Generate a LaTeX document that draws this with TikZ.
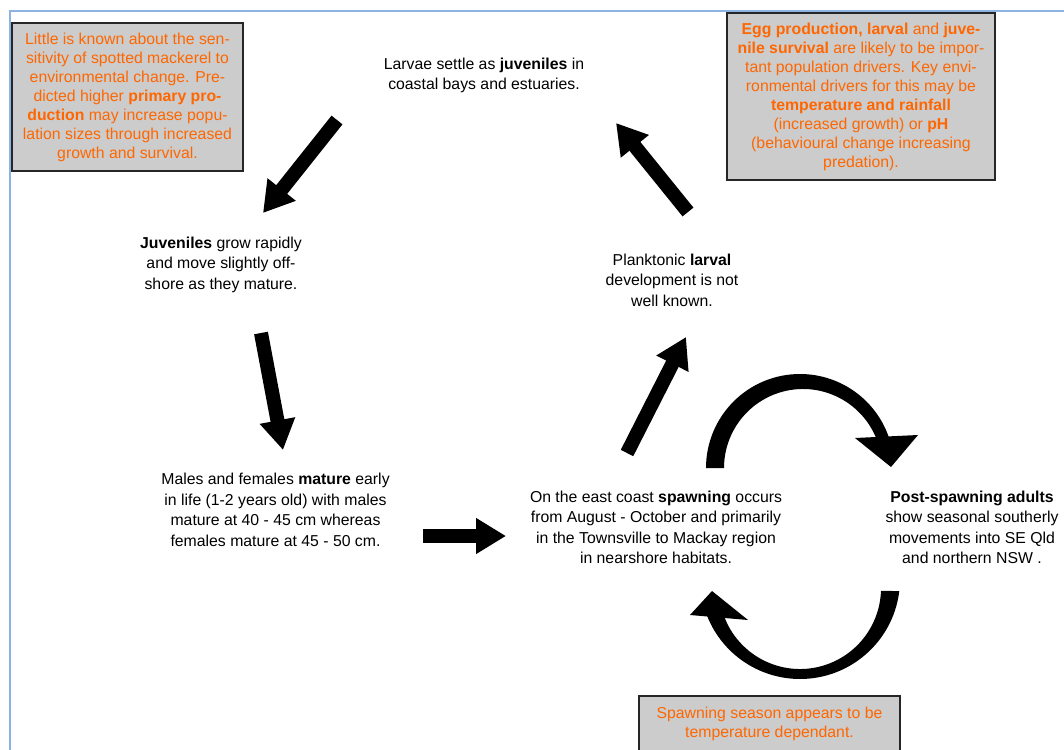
\documentclass[tikz,border=0pt]{standalone}
\usepackage{fontspec}
\setmainfont{Liberation Sans}
\usetikzlibrary{arrows.meta}
\definecolor{orng}{RGB}{255,102,0}
\definecolor{boxgrey}{RGB}{204,204,204}
\definecolor{frameblue}{RGB}{141,179,226}
\begin{document}
\begin{tikzpicture}[x=1pt,y=1pt,
  lbl/.style={align=center, font=\fontsize{15.8}{20.5}\selectfont, inner sep=0pt},
  boxline/.style={draw=black!85, line width=1.3pt, fill=boxgrey},
  note/.style={boxline, text=orng, align=center,
    font=\fontsize{15.8}{19}\selectfont, inner sep=0pt},
  notetext/.style={text=orng, align=center, font=\fontsize{15.8}{19}\selectfont, inner sep=0pt},
  blk/.style={line width=14pt, -{Triangle[width=34pt,length=30pt]}},
  curv/.style={fill=black}
]
\useasboundingbox (0,0) rectangle (1064,-749);
\fill[white] (0,0) rectangle (1064,-749);
\draw[frameblue, line width=2pt] (9.5,-752) -- (9.5,-11) -- (1066,-11);

% note boxes
\node[note, minimum width=231pt, minimum height=148pt] (n1) at (127.5,-97)
  {Little is known about the sen-\\sitivity of spotted mackerel to\\environmental change. Pre-\\dicted higher \textbf{primary pro-}\\\textbf{duction} may increase popu-\\lation sizes through increased\\growth and survival.};
\node[note, minimum width=268pt, minimum height=167pt] (n2) at (861,-96.5)
  {\textbf{Egg production, larval} and \textbf{juve-}\\\textbf{nile survival} are likely to be impor-\\tant population drivers. Key envi-\\ronmental drivers for this may be\\\textbf{temperature and rainfall}\\(increased growth) or \textbf{pH}\\(behavioural change increasing\\predation).};
\draw[boxline] (639,-696) rectangle (900,-765);
\node[notetext] (n3) at (769.5,-724)
  {Spawning season appears to be\\temperature dependant.};

% stage labels
\node[lbl] (larvae) at (484,-75.5) {Larvae settle as \textbf{juveniles} in\\coastal bays and estuaries.};
\node[lbl] (juv) at (221,-264.5) {\textbf{Juveniles} grow rapidly\\and move slightly off-\\shore as they mature.};
\node[lbl] (plank) at (672,-280) {Planktonic \textbf{larval}\\development is not\\well known.};
\node[lbl] (mature) at (275.5,-510) {Males and females \textbf{mature} early\\in life (1-2 years old) with males\\mature at 40 - 45 cm whereas\\females mature at 45 - 50 cm.};
\node[lbl] (spawn) at (656,-527.5) {On the east coast \textbf{spawning} occurs\\from August - October and primarily\\in the Townsville to Mackay region\\in nearshore habitats.};
\node[lbl] (post) at (972,-527.5) {\textbf{Post-spawning adults}\\show seasonal southerly\\movements into SE Qld\\and northern NSW .};

% straight block arrows
\coordinate (a1s) at (337,-120); \coordinate (a1e) at (263,-213);
\coordinate (a2s) at (261,-333); \coordinate (a2e) at (283,-450);
\coordinate (a3s) at (423,-536); \coordinate (a3e) at (506,-536);
\coordinate (a4s) at (627,-453); \coordinate (a4e) at (686,-337);
\coordinate (a5s) at (688,-212); \coordinate (a5e) at (616,-123);
\draw[blk] (a1s) -- (a1e);
\draw[blk] (a2s) -- (a2e);
\draw[blk] (a3s) -- (a3e);
\draw[blk] (a4s) -- (a4e);
\draw[blk] (a5s) -- (a5e);

% curved arrow, top
\fill[curv] (706,-468) arc[start angle=180, end angle=15, radius=94]
  -- (879.31,-447.55) arc[start angle=15, end angle=180, radius=79] -- cycle;
\fill[curv] (855,-438) -- (918,-435) -- (891,-467) -- cycle;

% curved arrow, bottom
\fill[curv] (899.3,-591) arc[start angle=-6.9, end angle=-160.7, radius=100]
  -- (723.56,-614.78) arc[start angle=-160.7, end angle=-2.1, radius=81] -- cycle;
\fill[curv] (690,-615) -- (748,-620) -- (712,-591) -- cycle;
\end{tikzpicture}
\end{document}
